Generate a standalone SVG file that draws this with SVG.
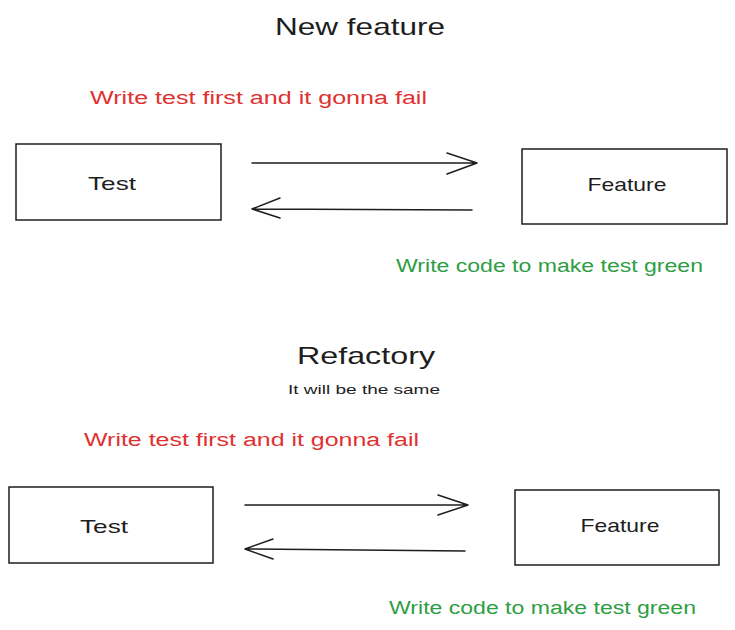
<svg xmlns="http://www.w3.org/2000/svg" width="735" height="630" viewBox="0 0 735 630">
<style>
.box{fill:none;stroke:#1e1e1e;stroke-width:1.5}
.ln{fill:none;stroke:#1e1e1e;stroke-width:1.5;stroke-linecap:round;stroke-linejoin:round}
.t{font-family:"Liberation Sans",Arial,sans-serif;fill:#1e1e1e}
.red{font-family:"Liberation Sans",Arial,sans-serif;fill:#e03131;font-size:18px}
.green{font-family:"Liberation Sans",Arial,sans-serif;fill:#2f9e44;font-size:18px}
</style>
<rect width="735" height="630" fill="#ffffff"/>
<text class="t" x="360" y="35" font-size="24" text-anchor="middle" textLength="170" lengthAdjust="spacingAndGlyphs">New feature</text>
<text class="red" x="90" y="104" textLength="337" lengthAdjust="spacingAndGlyphs">Write test first and it gonna fail</text>
<g id="test1"><rect class="box" x="16" y="144" width="205" height="76"/><text class="t" x="112" y="190" font-size="19" text-anchor="middle" textLength="48" lengthAdjust="spacingAndGlyphs">Test</text></g>
<g id="feature1"><rect class="box" x="522" y="149" width="205" height="75"/><text class="t" x="627" y="191" font-size="19" text-anchor="middle" textLength="79" lengthAdjust="spacingAndGlyphs">Feature</text></g>
<text class="green" x="396" y="272" textLength="307" lengthAdjust="spacingAndGlyphs">Write code to make test green</text>
<text class="t" x="366" y="364" font-size="24" text-anchor="middle" textLength="138" lengthAdjust="spacingAndGlyphs">Refactory</text>
<text class="t" x="364" y="394" font-size="13" text-anchor="middle" textLength="152" lengthAdjust="spacingAndGlyphs">It will be the same</text>
<text class="red" x="84" y="446" textLength="335" lengthAdjust="spacingAndGlyphs">Write test first and it gonna fail</text>
<g id="test2"><rect class="box" x="9" y="487" width="204" height="76"/><text class="t" x="104" y="533" font-size="19" text-anchor="middle" textLength="48" lengthAdjust="spacingAndGlyphs">Test</text></g>
<g id="feature2"><rect class="box" x="515" y="490" width="204" height="75"/><text class="t" x="620" y="532" font-size="19" text-anchor="middle" textLength="79" lengthAdjust="spacingAndGlyphs">Feature</text></g>
<text class="green" x="389" y="614" textLength="307" lengthAdjust="spacingAndGlyphs">Write code to make test green</text>
<g id="connectors">
<path class="ln" d="M252 163 L477 163 M447 153 L477 163 L447 174"/>
<path class="ln" d="M472 210 L252 209 M280 198 L252 209 L280 218"/>
<path class="ln" d="M245 505 L468 505 M438 495 L468 505 L438 515"/>
<path class="ln" d="M465 551 L245 549 M273 539 L245 549 L273 559"/>
</g>
</svg>
